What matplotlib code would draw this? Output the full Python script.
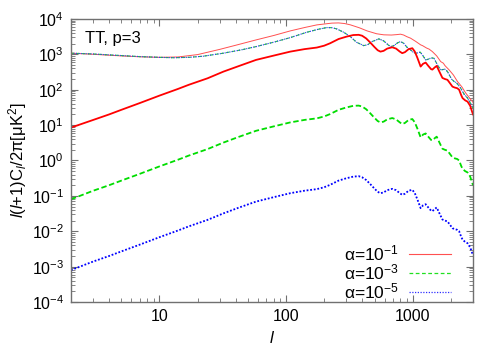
import matplotlib
matplotlib.use("Agg")
import matplotlib.pyplot as plt
from matplotlib.ticker import LogLocator, FixedLocator, NullFormatter
from matplotlib.lines import Line2D

plt.rcParams['font.family'] = ['Liberation Sans', 'DejaVu Sans']
plt.rcParams['mathtext.fontset'] = 'custom'
plt.rcParams['mathtext.rm'] = 'Liberation Sans'
plt.rcParams['mathtext.it'] = 'Liberation Sans:italic'

# alpha = 1e-1 total (thin red)
l_tot1 = [2, 3, 5, 7, 10, 14, 20, 30, 40, 58, 80, 108, 140, 175, 230, 260, 290, 322,
          380, 437, 520, 592, 680, 750, 803, 850, 900, 964, 1060, 1157, 1200, 1290,
          1350, 1433, 1550, 1668, 1750, 1800, 1942, 2100, 2262, 2450, 2630, 2800, 3000]
cl_tot1 = [1075, 1000, 900, 850, 820, 840, 980, 1380, 1800, 2550, 3400, 4580, 5700,
           6770, 7600, 7700, 7400, 6800, 5600, 4580, 3800, 3550, 3500, 3600, 3700, 3500,
           3150, 2850, 2300, 1850, 1750, 1500, 1400, 1190, 900, 620, 560, 480, 363, 260,
           170, 120, 80, 60, 44]

# alpha = 1e-3 / 1e-5 totals (nearly identical)
l_tot3 = [2, 3, 5, 7, 10, 13, 17, 22, 32, 45, 58, 80, 108, 146, 180, 210, 230, 252, 285,
          322, 360, 410, 440, 480, 541, 590, 640, 669, 710, 760, 803, 850, 900, 964,
          1010, 1056, 1100, 1150, 1210, 1268, 1320, 1400, 1475, 1530, 1600, 1668, 1730,
          1800, 1885, 1950, 2030, 2128, 2200, 2280, 2400, 2550, 2716, 2880, 3000]
cl_tot3 = [1075, 1020, 920, 860, 820, 800, 820, 880, 1075, 1350, 1650, 2200, 2960, 4200,
           5100, 5690, 5650, 5200, 4200, 3160, 2200, 1760, 1850, 2300, 2720, 2400,
           1850, 1650, 1750, 2100, 2290, 2050, 1600, 1330, 1150, 1075, 1100, 1150, 900,
           690, 720, 790, 775, 600, 450, 363, 370, 380, 325, 260, 200, 170, 160, 140, 110,
           75, 58, 40, 30]
cl_tot5 = [1075, 1020, 920, 860, 820, 800, 820, 880, 1075, 1350, 1650, 2200, 2960, 4200,
           5100, 5690, 5650, 5200, 4200, 3160, 2200, 1760, 1850, 2300, 2720, 2400,
           1850, 1650, 1750, 2100, 2290, 2050, 1600, 1330, 1150, 1075, 1100, 1150, 900,
           690, 720, 790, 775, 600, 450, 363, 370, 380, 325, 260, 200, 170, 160, 140, 110,
           75, 58, 40, 30]

# isocurvature components
l_iso = [2, 3, 4, 5, 7, 10, 14, 17, 24, 32, 42, 58, 80, 108, 140, 175, 200, 223, 260,
         300, 340, 375, 399, 430, 460, 500, 530, 557, 590, 630, 690, 740, 790, 828, 870,
         930, 995, 1040, 1090, 1157, 1210, 1268, 1330, 1400, 1433, 1500, 1550, 1630,
         1720, 1800, 1885, 1980, 2065, 2150, 2250, 2330, 2420, 2480, 2600, 2716, 2850,
         3000]
cl_iso1 = [8.5, 14, 20, 27, 42, 68, 105, 137, 210, 324, 460, 695, 920, 1190, 1400, 1550,
           1750, 2050, 2700, 3150, 3500, 3550, 3350, 2800, 2200, 1600, 1300, 1190, 1250,
           1450, 1580, 1450, 1200, 1075, 1150, 1400, 1485, 1200, 800, 450, 540, 583, 470,
           380, 370, 430, 470, 320, 215, 200, 190, 150, 122, 115, 110, 100, 70, 58, 50,
           46, 35, 20]
cl_iso3 = [0.08, 0.14, 0.2, 0.27, 0.42, 0.68, 1.05, 1.37, 2.1, 3.2, 4.6, 6.9, 9.2, 11.9,
           14, 15.5, 17.5, 20.5, 27, 31.5, 35, 35.5, 33.5, 28, 22, 16, 13, 11.9, 12.5,
           14.5, 15.8, 14.5, 12, 10.7, 11.5, 14, 14.8, 12, 8, 4.5, 5.4, 5.8, 4.7, 3.8,
           3.7, 4.3, 4.7, 3.2, 2.15, 2.0, 1.9, 1.5, 1.22, 1.15, 1.1, 1.0, 0.7, 0.58, 0.5,
           0.46, 0.35, 0.2]
cl_iso5 = [8e-4, 1.4e-3, 2.0e-3, 2.7e-3, 4.2e-3, 6.8e-3, 1.05e-2, 1.37e-2, 2.1e-2,
           3.2e-2, 4.6e-2, 6.9e-2, 9.2e-2, 0.119, 0.14, 0.155, 0.175, 0.205, 0.27, 0.315,
           0.35, 0.36, 0.335, 0.28, 0.22, 0.16, 0.13, 0.119, 0.125, 0.145, 0.158, 0.145,
           0.12, 0.107, 0.115, 0.14, 0.148, 0.12, 0.08, 0.045, 0.054, 0.058, 0.047, 0.038,
           0.037, 0.043, 0.047, 0.032, 0.0215, 0.020, 0.019, 0.015, 0.0122, 0.0115, 0.011,
           0.010, 0.007, 0.0058, 0.005, 0.0046, 0.0035, 0.0021]

legend_labels = ['α=10$^{-1}$', 'α=10$^{-3}$', 'α=10$^{-5}$']

fig = plt.figure(figsize=(5, 3.5), dpi=100)
ax = fig.add_axes([0.142, 0.137, 0.804, 0.809])

ax.plot(l_tot1, cl_tot1, color='#ff5050', lw=0.7)
ax.plot(l_tot3, cl_tot3, color='#20e020', lw=0.8, ls=(0, (3, 2)))
ax.plot(l_tot3, cl_tot5, color='#3030ff', lw=0.8, ls=(0, (1, 1.2)))
ax.plot(l_iso, cl_iso1, color='#ff0000', lw=1.3)
ax.plot(l_iso, cl_iso3, color='#00dd00', lw=1.3, ls=(0, (3, 1.5)))
ax.plot(l_iso, cl_iso5, color='#0000ff', lw=1.3, ls=(0, (1, 1)))

ax.set_xscale('log')
ax.set_yscale('log')
ax.set_xlim(2, 3000)
ax.set_ylim(1e-4, 1e4)

ax.yaxis.set_major_locator(FixedLocator([10.0**k for k in range(-4, 5)]))
ax.set_yticklabels([r'10$^{%d}$' % k for k in range(-4, 5)])
ax.yaxis.set_minor_locator(LogLocator(base=10, subs=range(2, 10), numticks=20))
ax.yaxis.set_minor_formatter(NullFormatter())
ax.xaxis.set_major_locator(FixedLocator([10, 100, 1000]))
ax.set_xticklabels(['10', '100', '1000'])
ax.xaxis.set_minor_locator(LogLocator(base=10, subs=range(2, 10), numticks=20))
ax.xaxis.set_minor_formatter(NullFormatter())

for s in ax.spines.values():
    s.set_color('#707070')
    s.set_linewidth(1.0)
ax.tick_params(which='both', direction='in', top=True, right=True, colors='#707070',
               labelcolor='black', labelsize=11.5)
ax.tick_params(which='major', length=5, pad=5)
ax.tick_params(which='minor', length=3)

ax.set_xlabel(r'$\it{l}$', fontsize=12, labelpad=4)
ax.set_ylabel(r'$\it{l}$($\it{l}$+1)C$_{\it{l}}$/2π[μK$^2$]', fontsize=12, labelpad=2)

ax.text(0.035, 0.93, 'TT, p=3', transform=ax.transAxes, fontsize=12, va='center', ha='left')

handles = [Line2D([], [], color='#ff5050', lw=0.8),
           Line2D([], [], color='#20e020', lw=0.9, ls=(0, (3, 2))),
           Line2D([], [], color='#3030ff', lw=0.9, ls=(0, (1, 1.2)))]
ax.legend(handles, legend_labels, loc='lower right', frameon=False, fontsize=12.5,
          markerfirst=False, handlelength=2.4, handletextpad=0.6, labelspacing=-0.05,
          borderaxespad=0.3, bbox_to_anchor=(0.975, -0.04))

fig.savefig('out.png', dpi=100)
